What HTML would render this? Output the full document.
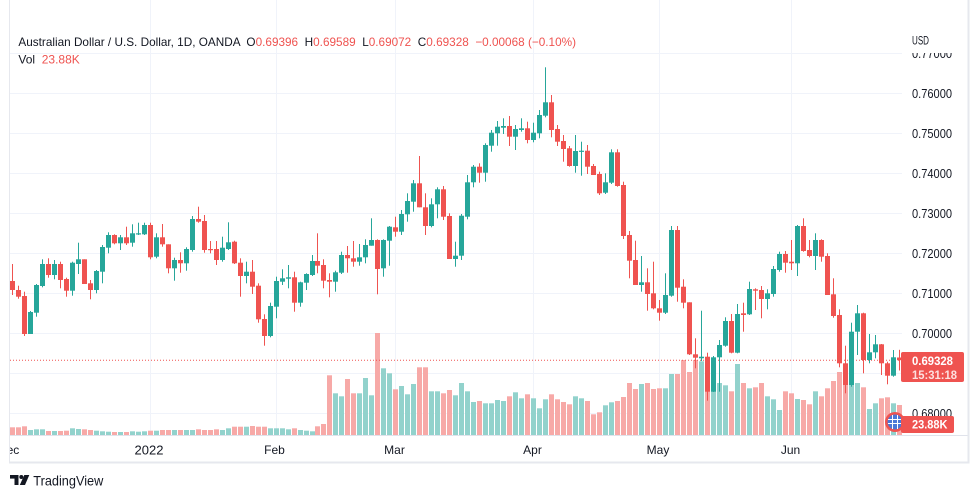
<!DOCTYPE html>
<html><head><meta charset="utf-8"><style>
html,body{margin:0;padding:0;background:#fff;}
svg{display:block;font-family:"Liberation Sans",sans-serif;}
</style></head><body>
<svg width="979" height="498" viewBox="0 0 979 498" xmlns="http://www.w3.org/2000/svg">
<defs>
<clipPath id="pc"><rect x="10" y="0" width="892" height="435"/></clipPath>
<clipPath id="tc"><rect x="10" y="436" width="958" height="26"/></clipPath>
</defs>
<rect width="979" height="498" fill="#fff"/>
<g stroke="#f0f3fa" stroke-width="1">
<line x1="10" y1="53.5" x2="902" y2="53.5"/>
<line x1="10" y1="93.5" x2="902" y2="93.5"/>
<line x1="10" y1="133.5" x2="902" y2="133.5"/>
<line x1="10" y1="173.5" x2="902" y2="173.5"/>
<line x1="10" y1="213.5" x2="902" y2="213.5"/>
<line x1="10" y1="253.5" x2="902" y2="253.5"/>
<line x1="10" y1="293.5" x2="902" y2="293.5"/>
<line x1="10" y1="333.5" x2="902" y2="333.5"/>
<line x1="10" y1="373.5" x2="902" y2="373.5"/>
<line x1="10" y1="413.5" x2="902" y2="413.5"/>
<line x1="150.5" y1="0" x2="150.5" y2="435"/>
<line x1="276.5" y1="0" x2="276.5" y2="435"/>
<line x1="395.5" y1="0" x2="395.5" y2="435"/>
<line x1="533.5" y1="0" x2="533.5" y2="435"/>
<line x1="659.5" y1="0" x2="659.5" y2="435"/>
<line x1="791.5" y1="0" x2="791.5" y2="435"/>
</g>
<g clip-path="url(#pc)">
<g fill="#92d2cc">
<rect x="28" y="430" width="5" height="5"/><rect x="34" y="429.3" width="5" height="5.7"/><rect x="40" y="429.3" width="5" height="5.7"/><rect x="52" y="431" width="5" height="4"/><rect x="70" y="428.3" width="5" height="6.7"/><rect x="76" y="429" width="5" height="6"/><rect x="94" y="430.7" width="5" height="4.3"/><rect x="100" y="431.3" width="5" height="3.7"/><rect x="106" y="431.7" width="5" height="3.3"/><rect x="118" y="432" width="5" height="3"/><rect x="130" y="431.3" width="5" height="3.7"/><rect x="136" y="431.7" width="5" height="3.3"/><rect x="142" y="431.3" width="5" height="3.7"/><rect x="154" y="430.7" width="5" height="4.3"/><rect x="172" y="430" width="5" height="5"/><rect x="184" y="430" width="5" height="5"/><rect x="190" y="430" width="5" height="5"/><rect x="220" y="430" width="5" height="5"/><rect x="226" y="428.3" width="5" height="6.7"/><rect x="244" y="426.7" width="5" height="8.3"/><rect x="268" y="428.3" width="5" height="6.7"/><rect x="274" y="428.3" width="5" height="6.7"/><rect x="280" y="428.3" width="5" height="6.7"/><rect x="286" y="429.3" width="5" height="5.7"/><rect x="298" y="430" width="5" height="5"/><rect x="304" y="430.7" width="5" height="4.3"/><rect x="310" y="431.3" width="5" height="3.7"/>
<rect x="333" y="393.3" width="5" height="41.7"/><rect x="339" y="396.3" width="5" height="38.7"/><rect x="357" y="393.3" width="5" height="41.7"/><rect x="363" y="378" width="5" height="57"/><rect x="369" y="395.3" width="5" height="39.7"/><rect x="381" y="368.3" width="5" height="66.7"/><rect x="387" y="373.3" width="5" height="61.7"/><rect x="399" y="386" width="5" height="49"/><rect x="405" y="394.3" width="5" height="40.7"/><rect x="411" y="384" width="5" height="51"/><rect x="429" y="391.3" width="5" height="43.7"/><rect x="435" y="391.3" width="5" height="43.7"/><rect x="453" y="395.3" width="5" height="39.7"/><rect x="459" y="383" width="5" height="52"/><rect x="465" y="391.3" width="5" height="43.7"/><rect x="471" y="402" width="5" height="33"/><rect x="483" y="403.3" width="5" height="31.7"/><rect x="489" y="403.3" width="5" height="31.7"/><rect x="495" y="400" width="5" height="35"/><rect x="501" y="401" width="5" height="34"/><rect x="513" y="392.3" width="5" height="42.7"/><rect x="519" y="398.3" width="5" height="36.7"/><rect x="531" y="398.3" width="5" height="36.7"/><rect x="537" y="408.3" width="5" height="26.7"/><rect x="543" y="399.3" width="5" height="35.7"/><rect x="573" y="396.3" width="5" height="38.7"/><rect x="579" y="398.3" width="5" height="36.7"/><rect x="603" y="405.3" width="5" height="29.7"/><rect x="609" y="402.3" width="5" height="32.7"/><rect x="639" y="384" width="5" height="51"/><rect x="663" y="388.3" width="5" height="46.7"/><rect x="669" y="374" width="5" height="61"/><rect x="699" y="361.3" width="5" height="73.7"/><rect x="711" y="380" width="5" height="55"/><rect x="717" y="383" width="5" height="52"/><rect x="723" y="385.3" width="5" height="49.7"/><rect x="735" y="364" width="5" height="71"/><rect x="747" y="388.3" width="5" height="46.7"/><rect x="765" y="396.3" width="5" height="38.7"/><rect x="771" y="399.3" width="5" height="35.7"/><rect x="777" y="410" width="5" height="25"/><rect x="795" y="399" width="5" height="36"/><rect x="813" y="391.3" width="5" height="43.7"/><rect x="849" y="383" width="5" height="52"/><rect x="855" y="383" width="5" height="52"/><rect x="867" y="409" width="5" height="26"/><rect x="873" y="403.3" width="5" height="31.7"/><rect x="891" y="403.3" width="5" height="31.7"/>
</g>
<g fill="#f7a9a7">
<rect x="10" y="427.3" width="5" height="7.7"/><rect x="16" y="427.3" width="5" height="7.7"/><rect x="22" y="426.3" width="5" height="8.7"/><rect x="46" y="431" width="5" height="4"/><rect x="58" y="431" width="5" height="4"/><rect x="64" y="430.7" width="5" height="4.3"/><rect x="82" y="429.3" width="5" height="5.7"/><rect x="88" y="430" width="5" height="5"/><rect x="112" y="432" width="5" height="3"/><rect x="124" y="432" width="5" height="3"/><rect x="148" y="430.7" width="5" height="4.3"/><rect x="160" y="430" width="5" height="5"/><rect x="166" y="430" width="5" height="5"/><rect x="178" y="430" width="5" height="5"/><rect x="196" y="429.3" width="5" height="5.7"/><rect x="202" y="430" width="5" height="5"/><rect x="208" y="430" width="5" height="5"/><rect x="214" y="429.3" width="5" height="5.7"/><rect x="232" y="426.7" width="5" height="8.3"/><rect x="238" y="426.7" width="5" height="8.3"/><rect x="250" y="426" width="5" height="9"/><rect x="256" y="426.7" width="5" height="8.3"/><rect x="262" y="426.7" width="5" height="8.3"/><rect x="292" y="428.3" width="5" height="6.7"/><rect x="315" y="426.3" width="5" height="8.7"/><rect x="321" y="424" width="5" height="11"/>
<rect x="327" y="375.3" width="5" height="59.7"/><rect x="345" y="379" width="5" height="56"/><rect x="351" y="393.3" width="5" height="41.7"/><rect x="375" y="333" width="5" height="102"/><rect x="393" y="389.3" width="5" height="45.7"/><rect x="417" y="367.3" width="5" height="67.7"/><rect x="423" y="367.3" width="5" height="67.7"/><rect x="441" y="393.3" width="5" height="41.7"/><rect x="447" y="390" width="5" height="45"/><rect x="477" y="401" width="5" height="34"/><rect x="507" y="396.3" width="5" height="38.7"/><rect x="525" y="394.3" width="5" height="40.7"/><rect x="549" y="394.3" width="5" height="40.7"/><rect x="555" y="399.3" width="5" height="35.7"/><rect x="561" y="402" width="5" height="33"/><rect x="567" y="404.3" width="5" height="30.7"/><rect x="585" y="401" width="5" height="34"/><rect x="591" y="414.3" width="5" height="20.7"/><rect x="597" y="412.3" width="5" height="22.7"/><rect x="615" y="401" width="5" height="34"/><rect x="621" y="397" width="5" height="38"/><rect x="627" y="383" width="5" height="52"/><rect x="633" y="389" width="5" height="46"/><rect x="645" y="383" width="5" height="52"/><rect x="651" y="389" width="5" height="46"/><rect x="657" y="388.3" width="5" height="46.7"/><rect x="675" y="374" width="5" height="61"/><rect x="681" y="360" width="5" height="75"/><rect x="687" y="372" width="5" height="63"/><rect x="693" y="360" width="5" height="75"/><rect x="705" y="370" width="5" height="65"/><rect x="729" y="391.3" width="5" height="43.7"/><rect x="741" y="383" width="5" height="52"/><rect x="753" y="387.3" width="5" height="47.7"/><rect x="759" y="383" width="5" height="52"/><rect x="783" y="391.3" width="5" height="43.7"/><rect x="789" y="393.3" width="5" height="41.7"/><rect x="801" y="400" width="5" height="35"/><rect x="807" y="404.3" width="5" height="30.7"/><rect x="819" y="396.3" width="5" height="38.7"/><rect x="825" y="388.3" width="5" height="46.7"/><rect x="831" y="381" width="5" height="54"/><rect x="837" y="372" width="5" height="63"/><rect x="843" y="372" width="5" height="63"/><rect x="861" y="387.3" width="5" height="47.7"/><rect x="879" y="398.3" width="5" height="36.7"/><rect x="885" y="397.3" width="5" height="37.7"/><rect x="897" y="405" width="5" height="30"/>
</g>
<line x1="10" y1="360.2" x2="902" y2="360.2" stroke="#ef5350" stroke-width="1" stroke-dasharray="1 2"/>
<g fill="#26a69a">
<rect x="30" y="311" width="1" height="23"/><rect x="28" y="312" width="5" height="22"/>
<rect x="36" y="284" width="1" height="32.7"/><rect x="34" y="285" width="5" height="27.7"/>
<rect x="42" y="259.3" width="1" height="28"/><rect x="40" y="264" width="5" height="22"/>
<rect x="54" y="260" width="1" height="19.3"/><rect x="52" y="264" width="5" height="11"/>
<rect x="72" y="261.7" width="1" height="34"/><rect x="70" y="262.7" width="5" height="28"/>
<rect x="78" y="242.7" width="1" height="31.3"/><rect x="76" y="259.3" width="5" height="4.7"/>
<rect x="96" y="270" width="1" height="23.3"/><rect x="94" y="271" width="5" height="19"/>
<rect x="102" y="245" width="1" height="38.3"/><rect x="100" y="247" width="5" height="24.7"/>
<rect x="108" y="232.3" width="1" height="21"/><rect x="106" y="235" width="5" height="12.7"/>
<rect x="120" y="235" width="1" height="15"/><rect x="118" y="237.3" width="5" height="6"/>
<rect x="132" y="224.3" width="1" height="22.4"/><rect x="130" y="233.3" width="5" height="9.4"/>
<rect x="138" y="222.7" width="1" height="12.3"/><rect x="136" y="233.3" width="5" height="1.2"/>
<rect x="144" y="222.7" width="1" height="12.3"/><rect x="142" y="225" width="5" height="9.3"/>
<rect x="156" y="233.3" width="1" height="25"/><rect x="154" y="237.3" width="5" height="19.4"/>
<rect x="174" y="257.7" width="1" height="23"/><rect x="172" y="260" width="5" height="8.3"/>
<rect x="186" y="247.3" width="1" height="23.4"/><rect x="184" y="249" width="5" height="14.3"/>
<rect x="192" y="216" width="1" height="35.7"/><rect x="190" y="219" width="5" height="31"/>
<rect x="222" y="236.7" width="1" height="25"/><rect x="220" y="247.7" width="5" height="12.3"/>
<rect x="228" y="222.3" width="1" height="27.7"/><rect x="226" y="242.3" width="5" height="6.7"/>
<rect x="246" y="261.7" width="1" height="21.6"/><rect x="244" y="271.7" width="5" height="4.3"/>
<rect x="270" y="302.7" width="1" height="34.6"/><rect x="268" y="306" width="5" height="30"/>
<rect x="276" y="276.7" width="1" height="41.6"/><rect x="274" y="281" width="5" height="25.7"/>
<rect x="282" y="269.3" width="1" height="15.7"/><rect x="280" y="278.3" width="5" height="3.4"/>
<rect x="288" y="265" width="1" height="23.3"/><rect x="286" y="277.3" width="5" height="1.4"/>
<rect x="300" y="281.7" width="1" height="25"/><rect x="298" y="282.3" width="5" height="20.4"/>
<rect x="306" y="273.3" width="1" height="16.7"/><rect x="304" y="274" width="5" height="8.7"/>
<rect x="312" y="255" width="1" height="21"/><rect x="310" y="261" width="5" height="14"/>
<rect x="335" y="270.7" width="1" height="21"/><rect x="333" y="272.3" width="5" height="9.4"/>
<rect x="341" y="251.7" width="1" height="22.3"/><rect x="339" y="255" width="5" height="17.7"/>
<rect x="359" y="244" width="1" height="21.7"/><rect x="357" y="257.3" width="5" height="4.4"/>
<rect x="365" y="239.3" width="1" height="24"/><rect x="363" y="245" width="5" height="12.3"/>
<rect x="371" y="218.3" width="1" height="27.4"/><rect x="369" y="240" width="5" height="5.7"/>
<rect x="383" y="239.3" width="1" height="37.4"/><rect x="381" y="240" width="5" height="28.3"/>
<rect x="389" y="226" width="1" height="39.7"/><rect x="387" y="226.7" width="5" height="14"/>
<rect x="401" y="210" width="1" height="25"/><rect x="399" y="214" width="5" height="17.7"/>
<rect x="407" y="193.3" width="1" height="28.4"/><rect x="405" y="201" width="5" height="13.3"/>
<rect x="413" y="180" width="1" height="31.7"/><rect x="411" y="183.3" width="5" height="18.4"/>
<rect x="431" y="198.3" width="1" height="29"/><rect x="429" y="204.3" width="5" height="21.7"/>
<rect x="437" y="187.3" width="1" height="31"/><rect x="435" y="189.3" width="5" height="15"/>
<rect x="455" y="241.7" width="1" height="25"/><rect x="453" y="255.7" width="5" height="3.3"/>
<rect x="461" y="214" width="1" height="46"/><rect x="459" y="215.7" width="5" height="40"/>
<rect x="467" y="175" width="1" height="44.3"/><rect x="465" y="182.3" width="5" height="34.4"/>
<rect x="473" y="165" width="1" height="22.3"/><rect x="471" y="166.7" width="5" height="15.6"/>
<rect x="485" y="143.3" width="1" height="38.4"/><rect x="483" y="145" width="5" height="27.7"/>
<rect x="491" y="130" width="1" height="21.7"/><rect x="489" y="132.7" width="5" height="13"/>
<rect x="497" y="121" width="1" height="24.7"/><rect x="495" y="126.7" width="5" height="6.6"/>
<rect x="503" y="118.3" width="1" height="15.7"/><rect x="501" y="126" width="5" height="1.7"/>
<rect x="515" y="125" width="1" height="25"/><rect x="513" y="129" width="5" height="7.7"/>
<rect x="521" y="118.3" width="1" height="13.4"/><rect x="519" y="128.3" width="5" height="1.7"/>
<rect x="533" y="122.7" width="1" height="19.6"/><rect x="531" y="132.7" width="5" height="7.3"/>
<rect x="539" y="110" width="1" height="28.3"/><rect x="537" y="115" width="5" height="18.3"/>
<rect x="545" y="67.3" width="1" height="50"/><rect x="543" y="102.3" width="5" height="13.4"/>
<rect x="575" y="135" width="1" height="37.7"/><rect x="573" y="151" width="5" height="15"/>
<rect x="581" y="141.7" width="1" height="34"/><rect x="579" y="150.7" width="5" height="1.2"/>
<rect x="605" y="173.3" width="1" height="20.7"/><rect x="603" y="182.3" width="5" height="10.4"/>
<rect x="611" y="149.3" width="1" height="34.7"/><rect x="609" y="152.3" width="5" height="30.4"/>
<rect x="641" y="256" width="1" height="35.7"/><rect x="639" y="282.3" width="5" height="2.7"/>
<rect x="665" y="273.3" width="1" height="40.7"/><rect x="663" y="295" width="5" height="17.7"/>
<rect x="671" y="226" width="1" height="70.7"/><rect x="669" y="230" width="5" height="65.7"/>
<rect x="701" y="310.7" width="1" height="50.3"/><rect x="699" y="356.7" width="5" height="1.6"/>
<rect x="713" y="356" width="1" height="36"/><rect x="711" y="357.3" width="5" height="34.4"/>
<rect x="719" y="340" width="1" height="51.7"/><rect x="717" y="345" width="5" height="12.3"/>
<rect x="725" y="317.3" width="1" height="29.4"/><rect x="723" y="321" width="5" height="24.7"/>
<rect x="737" y="304" width="1" height="49.3"/><rect x="735" y="314" width="5" height="38.7"/>
<rect x="749" y="281.7" width="1" height="33.3"/><rect x="747" y="289" width="5" height="25.3"/>
<rect x="767" y="289.3" width="1" height="20"/><rect x="765" y="293.3" width="5" height="5.7"/>
<rect x="773" y="266" width="1" height="30.7"/><rect x="771" y="269" width="5" height="25"/>
<rect x="779" y="251.7" width="1" height="20"/><rect x="777" y="254" width="5" height="16"/>
<rect x="797" y="225" width="1" height="51"/><rect x="795" y="226" width="5" height="37.3"/>
<rect x="815" y="233.3" width="1" height="36.7"/><rect x="813" y="240" width="5" height="16"/>
<rect x="851" y="322.7" width="1" height="64"/><rect x="849" y="331.7" width="5" height="53.3"/>
<rect x="857" y="305" width="1" height="50"/><rect x="855" y="313.3" width="5" height="18.4"/>
<rect x="869" y="334" width="1" height="29.3"/><rect x="867" y="352.3" width="5" height="7.7"/>
<rect x="875" y="335" width="1" height="23.3"/><rect x="873" y="344.3" width="5" height="8"/>
<rect x="893" y="350" width="1" height="26.7"/><rect x="891" y="357.3" width="5" height="18.4"/>
</g>
<g fill="#ef5350">
<rect x="12" y="264" width="1" height="31"/><rect x="10" y="281" width="5" height="9"/>
<rect x="18" y="285.7" width="1" height="13"/><rect x="16" y="290" width="5" height="6.7"/>
<rect x="24" y="291.7" width="1" height="44.3"/><rect x="22" y="296" width="5" height="38"/>
<rect x="48" y="258.3" width="1" height="19.4"/><rect x="46" y="264" width="5" height="11"/>
<rect x="60" y="261.7" width="1" height="26.6"/><rect x="58" y="264" width="5" height="16"/>
<rect x="66" y="277.7" width="1" height="19"/><rect x="64" y="279" width="5" height="11.7"/>
<rect x="84" y="259.3" width="1" height="24.7"/><rect x="82" y="259.3" width="5" height="24.7"/>
<rect x="90" y="280" width="1" height="19.3"/><rect x="88" y="283.3" width="5" height="6.7"/>
<rect x="114" y="234.3" width="1" height="10"/><rect x="112" y="235" width="5" height="8.3"/>
<rect x="126" y="226.7" width="1" height="18.3"/><rect x="124" y="237.3" width="5" height="6"/>
<rect x="150" y="222.7" width="1" height="36.6"/><rect x="148" y="225" width="5" height="32.3"/>
<rect x="162" y="224" width="1" height="22.7"/><rect x="160" y="237.3" width="5" height="7"/>
<rect x="168" y="244.3" width="1" height="29"/><rect x="166" y="244.3" width="5" height="24"/>
<rect x="180" y="252.3" width="1" height="20.4"/><rect x="178" y="260" width="5" height="3.3"/>
<rect x="198" y="206.7" width="1" height="16"/><rect x="196" y="219" width="5" height="2.7"/>
<rect x="204" y="215" width="1" height="37.7"/><rect x="202" y="221" width="5" height="29"/>
<rect x="210" y="241" width="1" height="12.3"/><rect x="208" y="249" width="5" height="1.2"/>
<rect x="216" y="241" width="1" height="24"/><rect x="214" y="249" width="5" height="11"/>
<rect x="234" y="240.7" width="1" height="23.3"/><rect x="232" y="241.7" width="5" height="21.6"/>
<rect x="240" y="258.3" width="1" height="38.4"/><rect x="238" y="262.7" width="5" height="13.3"/>
<rect x="252" y="260" width="1" height="34"/><rect x="250" y="271.7" width="5" height="15"/>
<rect x="258" y="283.3" width="1" height="39.4"/><rect x="256" y="285.7" width="5" height="33.6"/>
<rect x="264" y="314.3" width="1" height="31.4"/><rect x="262" y="319" width="5" height="17"/>
<rect x="294" y="271.7" width="1" height="40"/><rect x="292" y="277.3" width="5" height="25.4"/>
<rect x="317" y="233.3" width="1" height="40"/><rect x="315" y="261" width="5" height="4.7"/>
<rect x="323" y="259.3" width="1" height="29"/><rect x="321" y="265" width="5" height="15.7"/>
<rect x="329" y="273.3" width="1" height="24"/><rect x="327" y="280" width="5" height="1.7"/>
<rect x="347" y="246" width="1" height="26.7"/><rect x="345" y="255" width="5" height="3.3"/>
<rect x="353" y="241" width="1" height="25.7"/><rect x="351" y="258.3" width="5" height="3.4"/>
<rect x="377" y="239.3" width="1" height="55"/><rect x="375" y="240" width="5" height="29"/>
<rect x="395" y="216.7" width="1" height="20"/><rect x="393" y="227.3" width="5" height="4.4"/>
<rect x="419" y="156" width="1" height="51.3"/><rect x="417" y="183.3" width="5" height="24"/>
<rect x="425" y="193.3" width="1" height="41.7"/><rect x="423" y="207.3" width="5" height="18.7"/>
<rect x="443" y="186" width="1" height="34"/><rect x="441" y="189.3" width="5" height="27.4"/>
<rect x="449" y="213.3" width="1" height="45.7"/><rect x="447" y="216" width="5" height="43"/>
<rect x="479" y="163.3" width="1" height="19.4"/><rect x="477" y="166.7" width="5" height="6"/>
<rect x="509" y="116" width="1" height="30"/><rect x="507" y="126" width="5" height="10.7"/>
<rect x="527" y="121.7" width="1" height="21.6"/><rect x="525" y="128.3" width="5" height="11.7"/>
<rect x="551" y="95" width="1" height="42.3"/><rect x="549" y="102.3" width="5" height="27.7"/>
<rect x="557" y="125" width="1" height="21"/><rect x="555" y="129" width="5" height="12.7"/>
<rect x="563" y="135" width="1" height="26.7"/><rect x="561" y="141" width="5" height="8"/>
<rect x="569" y="146" width="1" height="20.7"/><rect x="567" y="148.3" width="5" height="17.7"/>
<rect x="587" y="145" width="1" height="29"/><rect x="585" y="150.7" width="5" height="16"/>
<rect x="593" y="164" width="1" height="11"/><rect x="591" y="166" width="5" height="9"/>
<rect x="599" y="171.7" width="1" height="23.3"/><rect x="597" y="174" width="5" height="19.3"/>
<rect x="617" y="149.3" width="1" height="37.4"/><rect x="615" y="152.3" width="5" height="33.7"/>
<rect x="623" y="181.7" width="1" height="57.3"/><rect x="621" y="185" width="5" height="51"/>
<rect x="629" y="231" width="1" height="47.3"/><rect x="627" y="235" width="5" height="25.7"/>
<rect x="635" y="240.7" width="1" height="44.3"/><rect x="633" y="260" width="5" height="25"/>
<rect x="647" y="268.3" width="1" height="42.4"/><rect x="645" y="282.3" width="5" height="11.7"/>
<rect x="653" y="261.7" width="1" height="47.6"/><rect x="651" y="293.3" width="5" height="15"/>
<rect x="659" y="300" width="1" height="20.7"/><rect x="657" y="308.3" width="5" height="4.4"/>
<rect x="677" y="226" width="1" height="75.7"/><rect x="675" y="230" width="5" height="57.7"/>
<rect x="683" y="279.3" width="1" height="29"/><rect x="681" y="286.7" width="5" height="16"/>
<rect x="689" y="302.3" width="1" height="52.7"/><rect x="687" y="302.3" width="5" height="52"/>
<rect x="695" y="338.3" width="1" height="30"/><rect x="693" y="354.3" width="5" height="3.4"/>
<rect x="707" y="352.7" width="1" height="48"/><rect x="705" y="356.7" width="5" height="35"/>
<rect x="731" y="314" width="1" height="39.3"/><rect x="729" y="321" width="5" height="31.7"/>
<rect x="743" y="302.7" width="1" height="29"/><rect x="741" y="313.3" width="5" height="1.7"/>
<rect x="755" y="288.3" width="1" height="21.7"/><rect x="753" y="289.3" width="5" height="1.4"/>
<rect x="761" y="286" width="1" height="32.3"/><rect x="759" y="290" width="5" height="9"/>
<rect x="785" y="251" width="1" height="21.7"/><rect x="783" y="254" width="5" height="8.7"/>
<rect x="791" y="240" width="1" height="30"/><rect x="789" y="261.7" width="5" height="1.6"/>
<rect x="803" y="218.3" width="1" height="33.4"/><rect x="801" y="226" width="5" height="25"/>
<rect x="809" y="240" width="1" height="17.3"/><rect x="807" y="250" width="5" height="6"/>
<rect x="821" y="239.3" width="1" height="22.4"/><rect x="819" y="240" width="5" height="16.7"/>
<rect x="827" y="253.3" width="1" height="41.7"/><rect x="825" y="256" width="5" height="39"/>
<rect x="833" y="278.3" width="1" height="39.4"/><rect x="831" y="294.3" width="5" height="21.7"/>
<rect x="839" y="309.3" width="1" height="58"/><rect x="837" y="315" width="5" height="48.3"/>
<rect x="845" y="345.7" width="1" height="47.6"/><rect x="843" y="363.3" width="5" height="21.7"/>
<rect x="863" y="312.7" width="1" height="60.6"/><rect x="861" y="313.3" width="5" height="46.7"/>
<rect x="881" y="344" width="1" height="31"/><rect x="879" y="344.3" width="5" height="19"/>
<rect x="887" y="361.7" width="1" height="22.6"/><rect x="885" y="363.3" width="5" height="12.4"/>
<rect x="899" y="349.8" width="1" height="20.7"/><rect x="897" y="357.5" width="5" height="2.7"/>
</g>
</g>
<line x1="9" y1="435.5" x2="969" y2="435.5" stroke="#e0e3eb" stroke-width="1"/>
<line x1="9" y1="462.5" x2="969.5" y2="462.5" stroke="#e6e8ee" stroke-width="2"/>
<line x1="9.5" y1="0" x2="9.5" y2="463" stroke="#e6e8ee" stroke-width="1"/>
<line x1="968.5" y1="0" x2="968.5" y2="463" stroke="#e6e8ee" stroke-width="2"/>
<g fill="#131722" font-size="12.5">
<text x="912" y="58" textLength="40" lengthAdjust="spacingAndGlyphs">0.77000</text>
<text x="912" y="98" textLength="40" lengthAdjust="spacingAndGlyphs">0.76000</text>
<text x="912" y="138" textLength="40" lengthAdjust="spacingAndGlyphs">0.75000</text>
<text x="912" y="178" textLength="40" lengthAdjust="spacingAndGlyphs">0.74000</text>
<text x="912" y="218" textLength="40" lengthAdjust="spacingAndGlyphs">0.73000</text>
<text x="912" y="258" textLength="40" lengthAdjust="spacingAndGlyphs">0.72000</text>
<text x="912" y="298" textLength="40" lengthAdjust="spacingAndGlyphs">0.71000</text>
<text x="912" y="338" textLength="40" lengthAdjust="spacingAndGlyphs">0.70000</text>
<text x="912" y="378" textLength="40" lengthAdjust="spacingAndGlyphs">0.69000</text>
<text x="912" y="418" textLength="40" lengthAdjust="spacingAndGlyphs">0.68000</text>
</g>
<rect x="904" y="26" width="63" height="27" fill="#fff"/>
<text x="912" y="44.3" fill="#131722" font-size="12" textLength="17" lengthAdjust="spacingAndGlyphs">USD</text>
<circle cx="895" cy="422" r="10" fill="#ef5350"/>
<circle cx="895" cy="422" r="7.5" fill="#4a78d8"/>
<g stroke="#fff" stroke-width="1" fill="none">
<line x1="888" y1="419.5" x2="902" y2="419.5"/>
<line x1="888" y1="423.5" x2="902" y2="423.5"/>
<line x1="892.5" y1="415" x2="892.5" y2="429"/>
<line x1="897.5" y1="415" x2="897.5" y2="429"/>
</g>
<rect x="901" y="352" width="63" height="30" rx="2" fill="#ef5350"/>
<text x="912" y="365" fill="#fff" font-size="12" font-weight="bold" textLength="41" lengthAdjust="spacingAndGlyphs">0.69328</text>
<text x="912" y="379" fill="#fde0df" font-size="12" font-weight="bold" textLength="45" lengthAdjust="spacingAndGlyphs">15:31:18</text>
<rect x="901" y="416" width="53" height="17" rx="2" fill="#ef5350"/>
<text x="912" y="428.6" fill="#fff" font-size="12" font-weight="bold" textLength="35.5" lengthAdjust="spacingAndGlyphs">23.88K</text>
<g clip-path="url(#tc)" fill="#131722" font-size="12" text-anchor="middle">
<text x="8.6" y="454">Dec</text>
<text x="149" y="454.5" font-size="13">2022</text>
<text x="274.5" y="454">Feb</text>
<text x="394.5" y="454">Mar</text>
<text x="532.5" y="454">Apr</text>
<text x="658" y="454">May</text>
<text x="790.5" y="454">Jun</text>
</g>
<text x="18.4" y="46" font-size="12" fill="#131722" style="white-space:pre" textLength="557.6" lengthAdjust="spacingAndGlyphs">Australian Dollar / U.S. Dollar, 1D, OANDA  O<tspan fill="#ef5350">0.69396</tspan>  H<tspan fill="#ef5350">0.69589</tspan>  L<tspan fill="#ef5350">0.69072</tspan>  C<tspan fill="#ef5350">0.69328</tspan>  <tspan fill="#ef5350">−0.00068 (−0.10%)</tspan></text>
<text x="18.4" y="63.3" font-size="12" fill="#131722" style="white-space:pre">Vol  <tspan fill="#ef5350">23.88K</tspan></text>
<g fill="#131722">
<rect x="10" y="475" width="8.5" height="3.6"/>
<rect x="14.5" y="475" width="4" height="10"/>
<circle cx="21.3" cy="477" r="2"/>
<polygon points="24.3,475 29.3,475 25,485 19.8,485"/>
</g>
<text x="33.3" y="485.5" font-size="14" fill="#131722" textLength="70" lengthAdjust="spacingAndGlyphs">TradingView</text>
</svg>
</body></html>
